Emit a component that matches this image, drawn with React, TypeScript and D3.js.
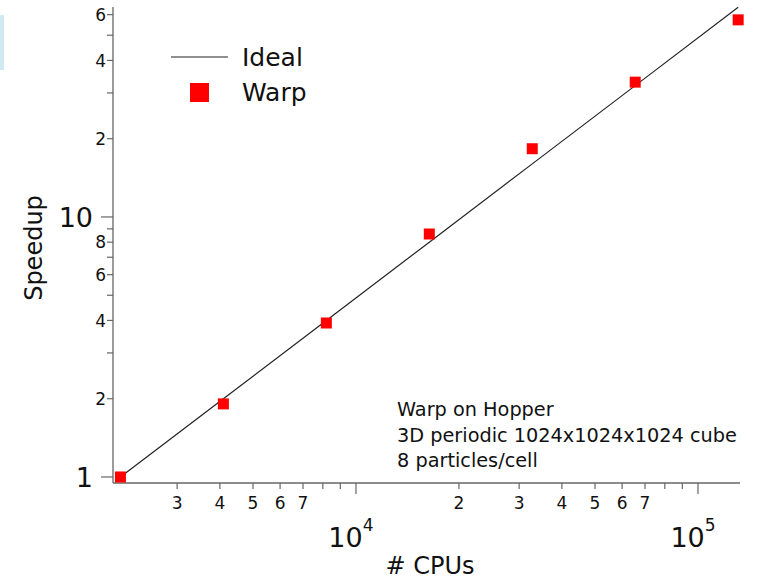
import React, { useRef, useEffect } from "react";
import * as d3 from "d3";

// data
const cpus = [2048, 4096, 8192, 16384, 32768, 65536, 131072];
const warpSpeedup = [1.0, 1.91, 3.91, 8.6, 18.3, 33.0, 57.3];
const idealSpeedup = [1, 2, 4, 8, 16, 32, 64];

const yTicks = [1, 2, 3, 4, 5, 6, 7, 8, 9, 10, 20, 30, 40, 50, 60];
const yTickLabels: { [k: number]: string } = { 1: "1", 2: "2", 4: "4", 6: "6", 8: "8", 10: "10", 20: "2", 40: "4", 60: "6" };
const xTicks = [3000, 4000, 5000, 6000, 7000, 8000, 9000, 10000, 20000, 30000, 40000, 50000, 60000, 70000, 80000, 90000, 100000];
const xTickLabels: { [k: number]: string } = { 3000: "3", 4000: "4", 5000: "5", 6000: "6", 7000: "7", 20000: "2", 30000: "3", 40000: "4", 50000: "5", 60000: "6", 70000: "7" };
const xDecades = [10000, 100000];
const xDecadeExp = ["4", "5"];

const note = ["Warp on Hopper", "3D periodic 1024x1024x1024 cube", "8 particles/cell"];
const legendNames = ["Ideal", "Warp"];

const W = 757, H = 579;
const font = "DejaVu Sans, sans-serif";

const App = () => {
  const ref = useRef<SVGSVGElement>(null);

  useEffect(() => {
    const svg = d3.select(ref.current);
    svg.selectAll("*").remove();

    const x = d3.scaleLog().domain([1948, 132700]).range([113, 740]);
    const y = d3.scaleLog().domain([0.948, 64.2]).range([483, 7]);
    const axisColor = "#666";

    // little cyan strip at the left edge
    svg.append("rect").attr("x", 0).attr("y", 15).attr("width", 4).attr("height", 55).attr("fill", "#cfeaf2");

    // axis lines
    svg.append("line").attr("x1", x.range()[0]).attr("x2", x.range()[0])
      .attr("y1", y.range()[0]).attr("y2", y.range()[1]).attr("stroke", axisColor).attr("stroke-width", 1.3);
    svg.append("line").attr("x1", x.range()[0]).attr("x2", x.range()[1])
      .attr("y1", y.range()[0]).attr("y2", y.range()[0]).attr("stroke", axisColor).attr("stroke-width", 1.3);

    // y ticks
    const isDec = (v: number) => Math.abs(Math.log10(v) - Math.round(Math.log10(v))) < 1e-9;
    svg.append("g").selectAll("line").data(yTicks).enter().append("line")
      .attr("x1", d => x.range()[0] - (isDec(d) ? 12 : 6)).attr("x2", x.range()[0])
      .attr("y1", d => y(d)).attr("y2", d => y(d))
      .attr("stroke", axisColor).attr("stroke-width", 1.2);
    svg.append("g").selectAll("text").data(yTicks.filter(d => yTickLabels[d])).enter().append("text")
      .attr("x", d => x.range()[0] - (isDec(d) ? 20 : 7))
      .attr("y", d => y(d))
      .attr("dy", "0.36em")
      .attr("text-anchor", "end")
      .attr("font-family", font)
      .attr("font-size", d => (isDec(d) ? 27 : 17))
      .attr("fill", "#111")
      .text(d => yTickLabels[d]);

    // x ticks
    svg.append("g").selectAll("line").data(xTicks).enter().append("line")
      .attr("x1", d => x(d)).attr("x2", d => x(d))
      .attr("y1", y.range()[0]).attr("y2", d => y.range()[0] + (isDec(d) ? 11 : 6))
      .attr("stroke", axisColor).attr("stroke-width", 1.2);
    svg.append("g").selectAll("text").data(xTicks.filter(d => xTickLabels[d])).enter().append("text")
      .attr("x", d => x(d)).attr("y", 509)
      .attr("text-anchor", "middle")
      .attr("font-family", font).attr("font-size", 17).attr("fill", "#111")
      .text(d => xTickLabels[d]);
    const dec = svg.append("g").selectAll("text").data(xDecades).enter().append("text")
      .attr("x", d => x(d) - 5).attr("y", 547)
      .attr("text-anchor", "middle")
      .attr("font-family", font).attr("font-size", 27).attr("fill", "#111");
    dec.append("tspan").text("10");
    dec.append("tspan").attr("dy", -16).attr("font-size", 17).text((d, i) => xDecadeExp[i]);

    // ideal line
    const line = d3.line<number>().x((d, i) => x(cpus[i])).y(d => y(d));
    svg.append("path").attr("d", line(idealSpeedup)).attr("fill", "none")
      .attr("stroke", "#222").attr("stroke-width", 1.2);

    // warp points
    const s = 11;
    svg.append("g").selectAll("rect").data(warpSpeedup).enter().append("rect")
      .attr("x", (d, i) => x(cpus[i]) - s / 2).attr("y", d => y(d) - s / 2)
      .attr("width", s).attr("height", s).attr("fill", "#ff0000");

    // legend
    svg.append("line").attr("x1", 171).attr("x2", 228).attr("y1", 57).attr("y2", 57)
      .attr("stroke", "#222").attr("stroke-width", 1.2);
    svg.append("rect").attr("x", 190).attr("y", 83).attr("width", 19).attr("height", 19).attr("fill", "#ff0000");
    svg.append("g").selectAll("text").data(legendNames).enter().append("text")
      .attr("x", 242).attr("y", (d, i) => 66 + i * 35)
      .attr("font-family", font).attr("font-size", 25).attr("fill", "#111")
      .text(d => d);

    // annotation
    svg.append("g").selectAll("text").data(note).enter().append("text")
      .attr("x", 397).attr("y", (d, i) => 416 + i * 25.5)
      .attr("font-family", font).attr("font-size", 19.3).attr("fill", "#111")
      .text(d => d);

    // axis titles
    svg.append("text").attr("x", 430).attr("y", 574).attr("text-anchor", "middle")
      .attr("font-family", font).attr("font-size", 24).attr("fill", "#111").text("# CPUs");
    svg.append("text").attr("transform", "translate(42,248) rotate(-90)").attr("text-anchor", "middle")
      .attr("font-family", font).attr("font-size", 24).attr("fill", "#111").text("Speedup");
  }, []);

  return (
    <svg ref={ref} width={W} height={H} style={{ position: "absolute", left: 0, top: 0, background: "#fff" }}></svg>
  );
};

export default App;
